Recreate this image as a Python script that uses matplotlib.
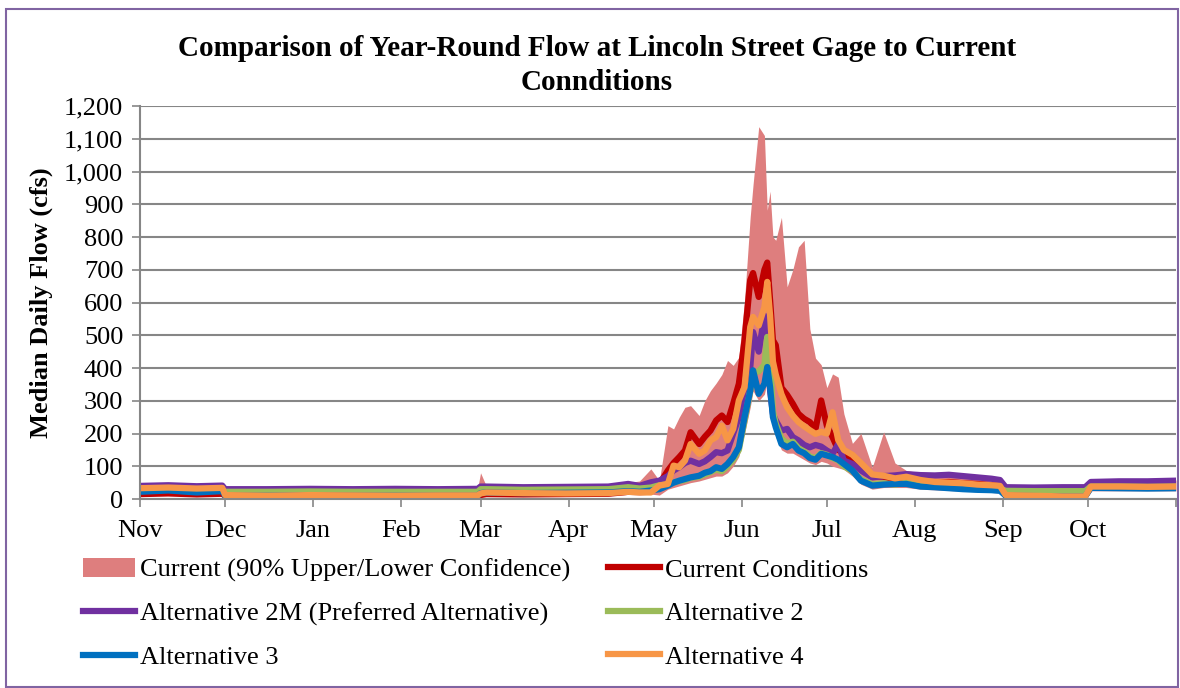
import matplotlib
matplotlib.use("Agg")
import matplotlib.pyplot as plt
from matplotlib.patches import Rectangle
from matplotlib.ticker import FuncFormatter

plt.rcParams['font.family'] = ['Liberation Serif', 'DejaVu Serif']

# days counted from Nov 1 (water year)
days = [0, 10, 20, 29, 30, 45, 60, 75, 90, 105,
        119, 120, 122, 135, 150, 165, 172, 176, 180, 183,
        186, 188, 190, 192, 194, 197, 199, 201, 203, 205,
        207, 209, 211, 213, 215, 216, 218, 220, 221, 222,
        223, 224, 226, 228, 230, 232, 234, 236, 238, 240,
        242, 244, 246, 248, 251, 254, 258, 262, 266, 270,
        275, 280, 285, 290, 295, 300, 303, 305, 315, 325,
        333, 335, 345, 355, 365]

band_upper = [45, 46, 44, 45, 35, 33, 34, 33, 34, 33,
              34, 80, 40, 40, 40, 41, 50, 55, 92, 56,
              224, 214, 250, 280, 285, 255, 300, 331, 354, 380,
              423, 408, 433, 607, 862, 960, 1137, 1110, 882, 940,
              800, 790, 860, 648, 700, 770, 790, 520, 430, 410,
              340, 382, 372, 260, 170, 200, 97, 205, 110, 87,
              80, 78, 76, 74, 70, 66, 60, 40, 38, 38,
              38, 55, 57, 57, 58]
band_lower = [10, 12, 10, 12, 5, 5, 5, 5, 5, 5,
              5, 8, 10, 10, 10, 10, 14, 12, 15, 12,
              30, 35, 40, 45, 50, 55, 60, 65, 70, 70,
              80, 100, 130, 200, 280, 330, 300, 320, 360, 300,
              220, 190, 150, 140, 140, 130, 120, 110, 105, 115,
              110, 100, 95, 90, 70, 45, 30, 35, 35, 35,
              30, 28, 26, 24, 22, 20, 18, 5, 5, 5,
              5, 25, 25, 25, 25]
current = [15, 17, 14, 16, 10, 10, 10, 10, 10, 10,
           10, 12, 15, 14, 15, 16, 22, 25, 30, 46,
           87, 110, 128, 148, 204, 168, 190, 209, 240, 255,
           235, 291, 352, 485, 668, 690, 617, 700, 722, 607,
           485, 470, 340, 318, 291, 260, 245, 235, 214, 301,
           224, 189, 150, 140, 120, 95, 70, 68, 60, 65,
           55, 50, 52, 48, 46, 42, 40, 10, 9, 8,
           8, 36, 38, 37, 36]
alt_2m = [40, 42, 39, 41, 30, 30, 31, 30, 31, 30,
          31, 38, 38, 36, 37, 38, 46, 40, 51, 56,
          70, 87, 97, 110, 117, 107, 115, 128, 143, 140,
          148, 200, 250, 330, 400, 510, 450, 560, 520, 330,
          260, 240, 209, 214, 189, 179, 165, 158, 165, 160,
          148, 138, 168, 117, 107, 87, 66, 70, 72, 76,
          73, 72, 74, 70, 66, 62, 58, 36, 35, 36,
          36, 52, 54, 54, 56]
alt_2 = [30, 31, 29, 30, 22, 22, 23, 22, 22, 22,
         22, 30, 30, 28, 29, 30, 36, 32, 35, 42,
         45, 50, 55, 58, 65, 68, 75, 82, 90, 85,
         100, 120, 150, 240, 330, 385, 390, 410, 495, 420,
         270, 230, 185, 170, 175, 155, 145, 130, 125, 140,
         135, 125, 118, 100, 85, 60, 45, 48, 44, 50,
         45, 42, 40, 38, 36, 34, 32, 25, 24, 24,
         24, 38, 38, 37, 38]
alt_3 = [22, 26, 20, 24, 10, 10, 11, 10, 10, 10,
         10, 18, 20, 18, 19, 20, 24, 22, 26, 30,
         41, 50, 56, 61, 66, 71, 80, 85, 97, 92,
         107, 128, 158, 250, 331, 393, 321, 352, 403, 342,
         250, 219, 168, 158, 168, 148, 140, 125, 120, 138,
         133, 128, 120, 107, 87, 56, 41, 44, 46, 46,
         38, 36, 33, 30, 28, 27, 25, 10, 9, 8,
         8, 34, 33, 32, 33]
alt_4 = [33, 35, 32, 34, 12, 10, 12, 11, 10, 11,
         11, 17, 20, 18, 17, 18, 22, 20, 20, 41,
         46, 102, 97, 117, 168, 138, 148, 179, 189, 224,
         179, 214, 301, 342, 525, 556, 530, 586, 663, 560,
         420, 380, 320, 280, 255, 235, 222, 210, 199, 205,
         200, 265, 180, 150, 135, 110, 75, 71, 63, 68,
         58, 52, 50, 48, 44, 42, 40, 12, 10, 8,
         8, 38, 38, 37, 38]

month_starts = [0, 30, 61, 92, 120, 151, 181, 212, 242, 273, 304, 334, 365]
month_labels = ['Nov', 'Dec', 'Jan', 'Feb', 'Mar', 'Apr', 'May', 'Jun',
                'Jul', 'Aug', 'Sep', 'Oct', '']

fig = plt.figure(figsize=(11.8, 6.88), dpi=100)
ax = fig.add_axes([0.1186, 0.2747, 0.8780, 0.5712])

band = ax.fill_between(days, band_lower, band_upper, color='#DE7E7E', lw=0,
                       label='Current (90% Upper/Lower Confidence)')
lw = 4.5
h_cur, = ax.plot(days, current, color='#C00000', lw=lw, label='Current Conditions')
h_2m, = ax.plot(days, alt_2m, color='#7030A0', lw=lw, label='Alternative 2M (Preferred Alternative)')
h_2, = ax.plot(days, alt_2, color='#9BBB59', lw=lw, label='Alternative 2')
h_3, = ax.plot(days, alt_3, color='#0070C0', lw=lw, label='Alternative 3')
h_4, = ax.plot(days, alt_4, color='#F79646', lw=lw, label='Alternative 4')

ax.set_xlim(0, 365)
ax.set_ylim(0, 1200)
ax.set_yticks(range(0, 1201, 100))
ax.yaxis.set_major_formatter(FuncFormatter(lambda v, p: f'{int(v):,}'))
ax.set_xticks(month_starts)
ax.set_xticklabels(month_labels)
ax.tick_params(axis='both', labelsize=19, length=6, width=1.2, color='#868686', pad=6)
ax.tick_params(axis='x', pad=9)
ax.grid(axis='y', color='#868686', lw=1.5)
ax.set_axisbelow(True)
for s in ['top', 'right']:
    ax.spines[s].set_visible(False)
for s in ['left', 'bottom']:
    ax.spines[s].set_color('#868686')
    ax.spines[s].set_linewidth(1.5)

ax.set_ylabel('Median Daily Flow (cfs)', fontsize=19, fontweight='bold', labelpad=8)
fig.text(0.506, 0.905, 'Comparison of Year-Round Flow at Lincoln Street Gage to Current\nConnditions',
         ha='center', va='center', fontsize=21, fontweight='bold', linespacing=1.35)

# row-major order like the original legend
handles = [band, h_2m, h_3, h_cur, h_2, h_4]
fig.legend(handles=handles, labels=[h.get_label() for h in handles],
           loc='upper left', bbox_to_anchor=(0.059, 0.208), ncol=2, frameon=False,
           fontsize=19, handlelength=1.97, handletextpad=0.19, columnspacing=1.45,
           labelspacing=0.76, borderpad=0)

fig.add_artist(Rectangle((0.005, 0.002), 0.993, 0.985, transform=fig.transFigure,
                         fill=False, edgecolor='#8064A2', lw=1.5))

fig.savefig('out.png', dpi=100)
